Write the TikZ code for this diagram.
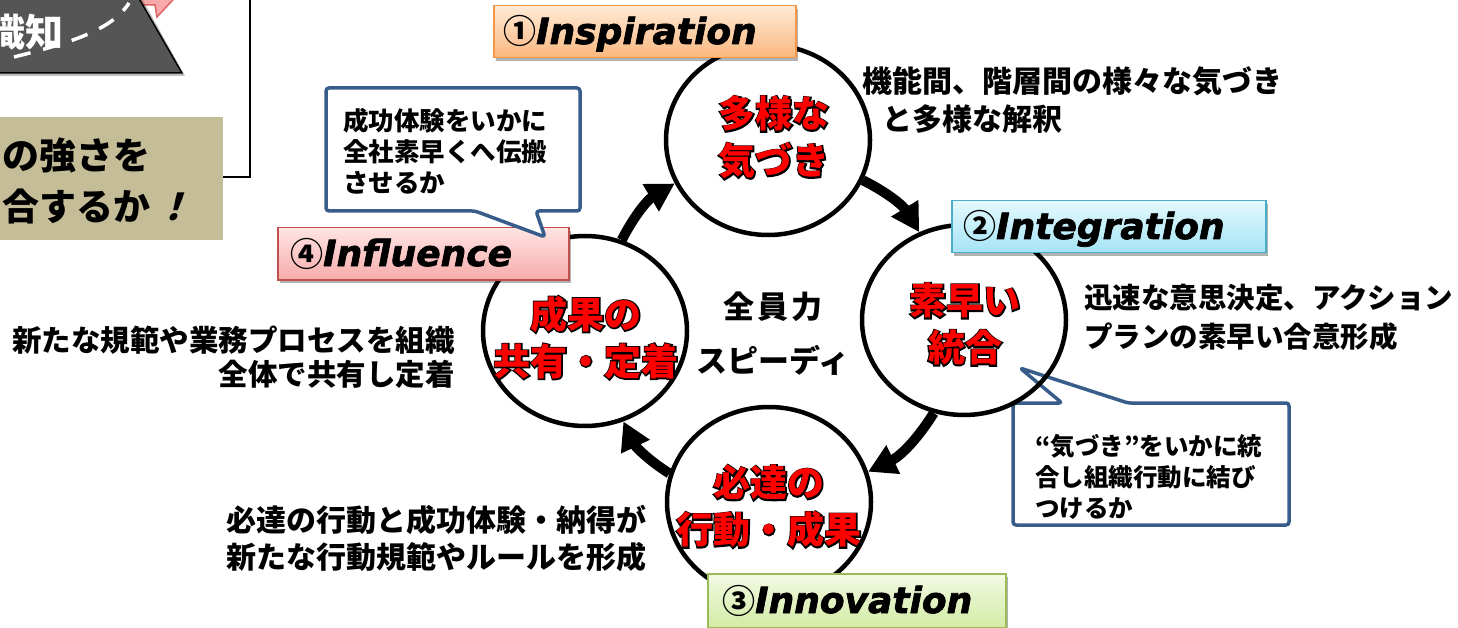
\documentclass[tikz,border=0pt]{standalone}
\usepackage{fontspec}
\usetikzlibrary{shapes.geometric,arrows.meta,shadows}
\newfontfamily\jp{Noto Sans CJK JP}
\newfontfamily\jpstroke{Noto Sans CJK JP}[FakeBold=7]
\newfontfamily\jpslant{Noto Sans CJK JP}[FakeSlant=0.3]
\newfontfamily\lat{DejaVu Sans}[FakeBold=2]
\definecolor{calloutblue}{RGB}{56,93,138}
\definecolor{darkgrayfill}{RGB}{85,85,85}
\definecolor{pinkfill}{RGB}{248,170,170}
\definecolor{pinkline}{RGB}{222,100,100}
\definecolor{tan}{RGB}{196,189,151}
\definecolor{orTop}{RGB}{254,234,214}
\definecolor{orBot}{RGB}{250,183,126}
\definecolor{orLine}{RGB}{247,150,70}
\definecolor{blTop}{RGB}{228,248,253}
\definecolor{blBot}{RGB}{165,228,246}
\definecolor{blLine}{RGB}{75,172,198}
\definecolor{grTop}{RGB}{243,250,228}
\definecolor{grBot}{RGB}{210,235,164}
\definecolor{grLine}{RGB}{155,187,89}
\definecolor{piTop}{RGB}{255,228,228}
\definecolor{piBot}{RGB}{245,172,170}
\definecolor{piLine}{RGB}{192,80,77}
\newcommand\redtext[3]{%
  \node[redo,anchor=north] (#1o) at (#2) {#3};
  \node[redf,anchor=north] (#1) at (#2) {#3};
}
\tikzset{
  ring/.style={ellipse, draw, line width=4.5pt, minimum width=204pt, minimum height=190pt, inner sep=0pt},
  bigarrow/.style={line width=10pt, -{Triangle[length=28pt,width=30pt]}},
  redo/.style={font=\jpstroke\bfseries\fontsize{37}{47}\selectfont, text=black, align=center, inner sep=0pt},
  redf/.style={font=\jp\bfseries\fontsize{37}{47}\selectfont, text=red, align=center, inner sep=0pt},
  side/.style={font=\jp\bfseries\fontsize{30}{38}\selectfont, inner sep=0pt},
  callout/.style={draw=calloutblue, line width=3.5pt, fill=white, rounded corners=3pt, line join=round},
  callouttext/.style={font=\jp\bfseries\fontsize{24.5}{31}\selectfont, inner sep=0pt, align=left},
  lbl/.style={draw, line width=1.5pt, inner sep=0pt, anchor=north west,
    drop shadow={shadow xshift=2pt, shadow yshift=-3pt, opacity=0.3, fill=black}},
  lbltxt/.style={font=\lat\bfseries\itshape\fontsize{36}{36}\selectfont, inner sep=0pt, anchor=base west},
}
\newcommand\circnum[1]{{\jp\fontsize{33}{33}\selectfont #1}}
\begin{document}
\begin{tikzpicture}[x=1pt,y=-1pt]
\useasboundingbox (0,0) rectangle (1458,628);
\fill[white] (0,0) rectangle (1458,628);

% ---- top-left partial elements ----
\draw[fill=pinkfill, draw=pinkline, line width=1.5pt] (100,-10) -- (182,-10) -- (157,17) -- (155,5) -- (100,5) -- cycle;
\fill[black, opacity=0.25] (-5,-5) -- (140,-5) -- (185,76) -- (-5,76) -- cycle;
\draw[fill=darkgrayfill, line width=1.5pt] (-5,-5) -- (137,-5) -- (182,73) -- (-5,73) -- cycle;
\node[anchor=east, font=\jp\bfseries\fontsize{38}{38}\selectfont, text=white, inner sep=0pt] (shiki) at (64,32) {識知};
\draw[white, line width=3.5pt, dash pattern=on 17pt off 13pt] (14,57) .. controls (70,43) and (112,30) .. (129,3);
\draw[line width=2pt] (223,177) -- (250,177) -- (250,-5);
\node[fill=tan, minimum width=228pt, minimum height=123pt, inner sep=0pt, anchor=north west] (tanbox) at (-5,117) {};
\node[anchor=west, font=\jp\bfseries\fontsize{37}{37}\selectfont, inner sep=0pt] (tan1) at (2,155) {の強さを};
\node[anchor=west, font=\jp\bfseries\fontsize{37}{37}\selectfont, inner sep=0pt] (tan2) at (2,206) {合するか\hspace{4pt}{\jpslant\bfseries ！}};

% ---- callout (lower right), below circles ----
\draw[callout] (1013,403) -- (1062,403) -- (1020,368) -- (1128,403) -- (1289,403) -- (1289,525) -- (1013,525) -- cycle;
\node[callouttext, anchor=north west] (c2) at (1035,434) {“気づき”をいかに統\\合し組織行動に結び\\つけるか};

% ---- circles ----
\node[ring] (top) at (768,140) {};
\node[ring] (right) at (964,320) {};
\node[ring] (bottom) at (769,502) {};
\node[ring] (left) at (585,331) {};

% ---- arrows ----
\draw[bigarrow] (left.68) to[bend left=16] (top.205);
\draw[bigarrow] (top.337) to[bend left=16] (right.117);
\draw[bigarrow] (right.252) to[bend left=16] (bottom.17);
\draw[bigarrow] (bottom.164) to[bend left=16] (left.293);

% ---- red texts ----
\redtext{tt}{774,96}{多様な\\気づき}
\redtext{rt}{965,283}{素早い\\統合}
\redtext{lt}{586,296}{成果の\\共有・定着}
\redtext{bt}{769,465}{必達の\\行動・成果}

% ---- centre text ----
\node[font=\jp\bfseries\fontsize{31}{54}\selectfont, align=center, inner sep=0pt, anchor=north] (center) at (773,292) {全\hspace{3pt}員\hspace{3pt}力\\スピーディ};

% ---- label boxes ----
\node[lbl, draw=orLine, top color=orTop, bottom color=orBot, minimum width=302pt, minimum height=52pt] (insp) at (493,5) {};
\node[lbltxt] (inspt) at (503,44) {\circnum{①}Inspiration};
\node[lbl, draw=blLine, top color=blTop, bottom color=blBot, minimum width=314pt, minimum height=52pt] (integ) at (951,200) {};
\node[lbltxt] (integt) at (963,239) {\circnum{②}Integration};
\node[lbl, draw=grLine, top color=grTop, bottom color=grBot, minimum width=298pt, minimum height=54pt] (innov) at (707,573) {};
\node[lbltxt] (innovt) at (722,613) {\circnum{③}Innovation};
\node[lbl, draw=piLine, top color=piTop, bottom color=piBot, minimum width=291pt, minimum height=52pt] (infl) at (277,227) {};
\node[lbltxt] (inflt) at (290,266) {\circnum{④}Influence};

% ---- callout (upper left) ----
\draw[callout] (326,88) -- (580,88) -- (580,211) -- (536,211) -- (545,237) -- (475,211) -- (326,211) -- cycle;
\node[callouttext, anchor=north west, font=\jp\bfseries\fontsize{25.5}{31}\selectfont] (c1) at (343,108) {成功体験をいかに\\全社素早くへ伝搬\\させるか};

% ---- side texts ----
\node[side, anchor=north west, align=left] (s1) at (862,66) {機能間、階層間の様々な気づき\\\hspace*{20pt}と多様な解釈};
\node[side, anchor=north west, align=left, font=\jp\bfseries\fontsize{28.5}{39}\selectfont] (s2) at (1084,284) {迅速な意思決定、アクション\\プランの素早い合意形成};
\node[side, anchor=north east, align=right, font=\jp\bfseries\fontsize{29.5}{34}\selectfont] (s4) at (455,326) {新たな規範や業務プロセスを組織\\全体で共有し定着};
\node[side, anchor=north west, align=left, font=\jp\bfseries\fontsize{30}{37}\selectfont] (s3) at (226,505) {必達の行動と成功体験・納得が\\新たな行動規範やルールを形成};
\end{tikzpicture}
\end{document}
